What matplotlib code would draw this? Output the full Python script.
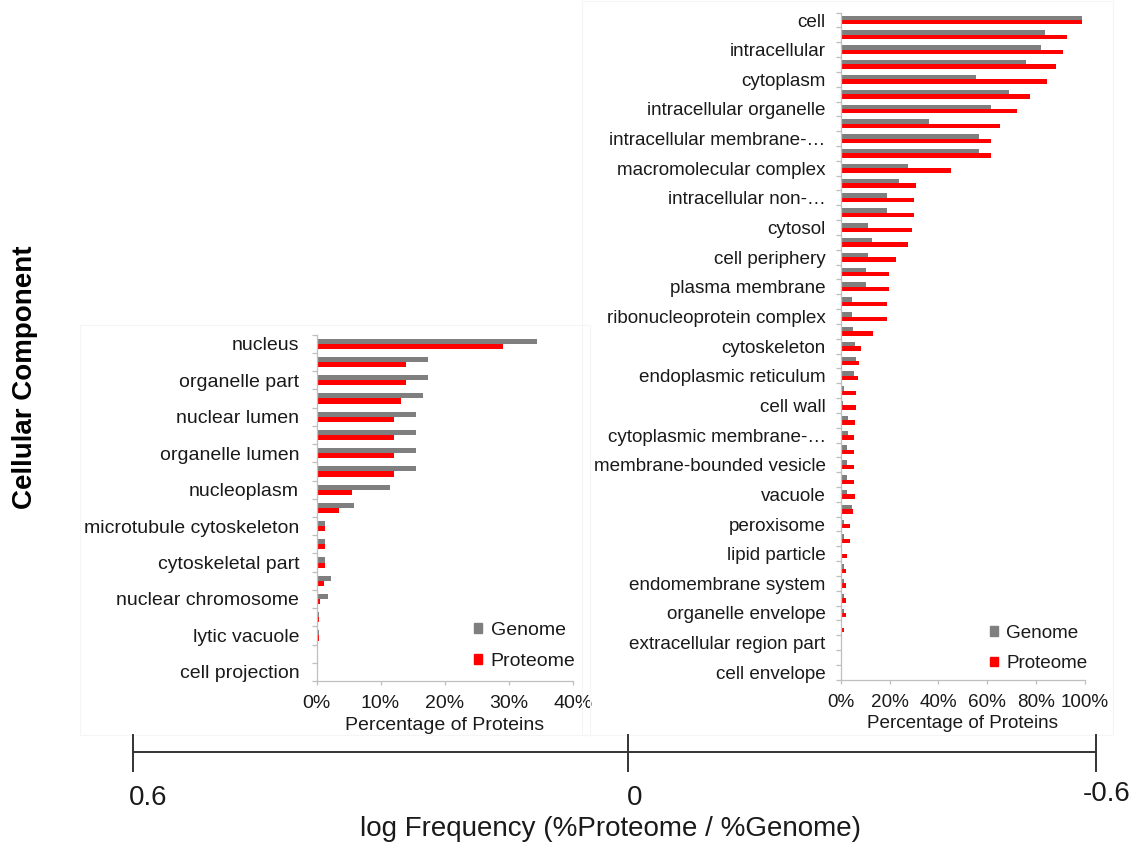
import matplotlib
matplotlib.use("Agg")
import matplotlib.pyplot as plt
from matplotlib.patches import Patch, Rectangle
from matplotlib.lines import Line2D
from matplotlib.ticker import FuncFormatter
import numpy as np

# ---------------- data ----------------
# Panel A: components enriched in the genome (every other name shown on the axis)
left_labels = ["nucleus", "", "organelle part", "", "nuclear lumen", "",
               "organelle lumen", "", "nucleoplasm", "", "microtubule cytoskeleton", "",
               "cytoskeletal part", "", "nuclear chromosome", "", "lytic vacuole", "",
               "cell projection"]
left_genome = [34.4, 17.4, 17.4, 16.7, 15.6, 15.6, 15.6, 15.6, 11.4, 5.9,
               1.4, 1.4, 1.4, 2.2, 1.8, 0.35, 0.35, 0.15, 0.15]
left_proteome = [29.1, 13.9, 13.9, 13.2, 12.1, 12.1, 12.1, 12.1, 5.6, 3.5,
                 1.25, 1.25, 1.25, 1.15, 0.5, 0.35, 0.35, 0.1, 0.1]
left_xticks = [0, 10, 20, 30, 40]

# Panel B: components enriched in the proteome
right_labels = ["cell", "", "intracellular", "", "cytoplasm", "",
                "intracellular organelle", "", "intracellular membrane-\u2026", "",
                "macromolecular complex", "", "intracellular non-\u2026", "",
                "cytosol", "", "cell periphery", "", "plasma membrane", "",
                "ribonucleoprotein complex", "", "cytoskeleton", "",
                "endoplasmic reticulum", "", "cell wall", "",
                "cytoplasmic membrane-\u2026", "", "membrane-bounded vesicle", "",
                "vacuole", "", "peroxisome", "", "lipid particle", "",
                "endomembrane system", "", "organelle envelope", "",
                "extracellular region part", "", "cell envelope"]
right_genome = [98.6, 83.8, 81.9, 75.9, 55.5, 69.0, 61.7, 36.2, 56.8, 56.8,
                27.7, 24.0, 19.0, 19.0, 11.2, 13.0, 11.2, 10.5, 10.2, 4.8,
                4.8, 5.0, 5.9, 6.1, 5.6, 1.2, 1.0, 2.9, 2.9, 2.7,
                2.7, 2.7, 2.5, 4.5, 1.4, 1.4, 0.5, 1.4, 1.4, 1.4,
                1.4, 0.4, 0.3, 0.2, 0.2]
right_proteome = [98.6, 92.5, 91.1, 88.1, 84.4, 77.4, 72.2, 65.3, 61.5, 61.5,
                  45.2, 31.0, 30.0, 30.0, 29.3, 27.6, 22.5, 19.8, 19.8, 18.8,
                  18.8, 13.4, 8.2, 7.6, 7.0, 6.4, 6.4, 5.7, 5.6, 5.6,
                  5.6, 5.6, 5.7, 5.0, 3.8, 3.8, 2.7, 2.3, 2.3, 2.3,
                  2.3, 1.4, 0.5, 0.5, 0.4]
right_xticks = [0, 20, 40, 60, 80, 100]

series_names = ["Genome", "Proteome"]
scale_ticks = ["0.6", "0", "-0.6"]

# ---------------- style ----------------
FONT = "Liberation Sans"
plt.rcParams["font.family"] = [FONT, "DejaVu Sans"]
GREY = "#7f7f7f"
RED = "#ff0000"
SPINE = "#bfbfbf"
TXT = "#1a1a1a"

W, H = 1138, 844
fig = plt.figure(figsize=(W / 100, H / 100), dpi=100)


def fx(px):
    return px / W


def fy(py):
    return 1 - py / H


def panel(rect, labels, genome, proteome, xticks, bar_h, label_pad, fs):
    ax = fig.add_axes(rect)
    n = len(labels)
    y = np.arange(n)
    ax.barh(y - bar_h / 2, genome, height=bar_h, color=GREY, label=series_names[0])
    ax.barh(y + bar_h / 2, proteome, height=bar_h, color=RED, label=series_names[1])
    ax.set_ylim(n - 0.5, -0.5)
    ax.set_xlim(xticks[0], xticks[-1])
    ax.set_yticks(y)
    ax.set_yticklabels(labels, fontsize=fs, color=TXT)
    ax.set_yticks(np.arange(n + 1) - 0.5, minor=True)
    ax.tick_params(axis="y", which="major", length=0, pad=label_pad)
    ax.tick_params(axis="y", which="minor", length=3.6, width=0.9, color=SPINE)
    ax.set_xticks(xticks)
    ax.xaxis.set_major_formatter(FuncFormatter(lambda v, p: f"{v:.0f}%"))
    ax.tick_params(axis="x", which="major", length=3, width=0.9, color=SPINE,
                   labelsize=fs, labelcolor=TXT, pad=7)
    ax.set_xlabel("Percentage of Proteins", fontsize=fs, color=TXT, labelpad=3.5)
    for s in ("top", "right"):
        ax.spines[s].set_visible(False)
    for s in ("left", "bottom"):
        ax.spines[s].set_color(SPINE)
        ax.spines[s].set_linewidth(0.9)
    return ax


# faint frames around each panel
fig.add_artist(Rectangle((fx(80), fy(735)), fx(590) - fx(80), fy(325) - fy(735),
                         transform=fig.transFigure, fill=False, ec="#f5f5f5", lw=0.8))
fig.add_artist(Rectangle((fx(582), fy(735)), fx(1113) - fx(582), fy(1) - fy(735),
                         transform=fig.transFigure, fill=False, ec="#f5f5f5", lw=0.8))

ax_l = panel([fx(316.5), fy(681), fx(572.7) - fx(316.5), fy(334.7) - fy(681)],
             left_labels, left_genome, left_proteome, left_xticks, 0.28, 12.5, 14.0)
ax_r = panel([fx(840.7), fy(679.7), fx(1085) - fx(840.7), fy(12.6) - fy(679.7)],
             right_labels, right_genome, right_proteome, right_xticks, 0.3, 10.8, 13.6)

handles = [Patch(color=GREY, label=series_names[0]), Patch(color=RED, label=series_names[1])]
for ax, (lx, ly, fs) in ((ax_l, (474, 646, 14.0)), (ax_r, (990, 648.5, 13.6))):
    ax.legend(handles=handles, loc="center left", bbox_to_anchor=(fx(lx), fy(ly)),
              bbox_transform=fig.transFigure, frameon=False, fontsize=fs,
              handlelength=0.4, handleheight=0.4, handletextpad=0.45,
              labelspacing=0.72, borderpad=0, borderaxespad=0,
              labelcolor=TXT)

# shared vertical title
fig.text(fx(25), fy(377), "Cellular Component", rotation=90, ha="center", va="center",
         fontsize=20, fontweight="bold", color="black")

# log-frequency scale bar beneath both panels
scale_x = [133, 628, 1096]
line_y = 752
fig.add_artist(Line2D([fx(scale_x[0]), fx(scale_x[-1])], [fy(line_y), fy(line_y)],
                      transform=fig.transFigure, color="#333333", lw=1.4))
for x in scale_x:
    fig.add_artist(Line2D([fx(x), fx(x)], [fy(735), fy(771)],
                          transform=fig.transFigure, color="#333333", lw=1.4))
for x, t, yy in zip([148, 635, 1107], scale_ticks, [798, 798, 794]):
    fig.text(fx(x), fy(yy), t, ha="center", va="center", fontsize=20, color=TXT)
fig.text(fx(610), fy(829), "log Frequency (%Proteome / %Genome)", ha="center",
         va="center", fontsize=20, color=TXT)

fig.savefig("out.png", dpi=100)
